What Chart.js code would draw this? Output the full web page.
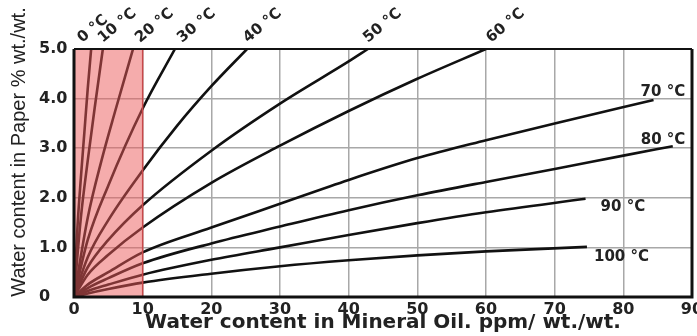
<!DOCTYPE html>
<html>
<head>
<meta charset="utf-8">
<script src="https://cdn.jsdelivr.net/npm/chart.js@4.4.0/dist/chart.umd.min.js"></script>
<style>
  html, body { margin: 0; padding: 0; background: #fff; }
</style>
</head>
<body>
<canvas id="moistureChart" width="697" height="336"></canvas>
<script>
// curve labels (oil temperature)
const tempLabels = ['0 °C', '10 °C', '20 °C', '30 °C', '40 °C', '50 °C', '60 °C',
                    '70 °C', '80 °C', '90 °C', '100 °C'];

// [ppm in oil, % in paper]
const curve0 = [[0, 0], [0.5, 1.4], [1, 2.4], [1.5, 3.3], [2, 4.2], [2.5, 5]];
const curve10 = [[0, 0], [1, 1.6], [2, 2.75], [3, 3.8], [4.2, 5]];
const curve20 = [[0, 0], [2, 1.6], [4, 2.75], [6, 3.75], [8.6, 5]];
const curve30 = [[0, 0], [2, 1.15], [5, 2.25], [10, 3.8], [14.7, 5]];
const curve40 = [[0, 0], [2, 0.8], [5, 1.55], [10, 2.55], [15, 3.45], [20, 4.25], [25.2, 5]];
const curve50 = [[0, 0], [2, 0.6], [5, 1.15], [10, 1.85], [20, 2.95], [30, 3.9], [40, 4.75], [42.8, 5]];
const curve60 = [[0, 0], [2, 0.45], [5, 0.85], [10, 1.4], [20, 2.3], [30, 3.05], [40, 3.75], [50, 4.4], [60, 5]];
const curve70 = [[0, 0], [2, 0.25], [5, 0.5], [10, 0.9], [20, 1.4], [30, 1.88], [40, 2.36], [50, 2.8],
                 [60, 3.16], [70, 3.5], [84.4, 3.97]];
const curve80 = [[0, 0], [2, 0.18], [5, 0.38], [10, 0.68], [20, 1.08], [30, 1.42], [40, 1.75], [50, 2.05],
                 [60, 2.32], [70, 2.58], [80, 2.85], [87.2, 3.04]];
const curve90 = [[0, 0], [2, 0.12], [5, 0.25], [10, 0.45], [20, 0.75], [30, 1.0], [40, 1.25], [50, 1.49],
                 [60, 1.71], [74.5, 1.98]];
const curve100 = [[0, 0], [2, 0.07], [5, 0.16], [10, 0.29], [20, 0.47], [30, 0.62], [40, 0.74], [50, 0.84],
                  [60, 0.92], [74.7, 1.01]];

const xTicks = [0, 10, 20, 30, 40, 50, 60, 70, 80, 90];
const yTickLabels = ['0', '1.0', '2.0', '3.0', '4.0', '5.0'];
const shadedUpTo = 10; // pink band, ppm

const curves = [curve0, curve10, curve20, curve30, curve40, curve50, curve60,
                curve70, curve80, curve90, curve100];

const textColor = '#222';
const tickFont = { family: 'DejaVu Sans', weight: 'bold', size: 16 };

// label placement, pixels from each curve's last point
const topLabelDx = [-9, 0, 7, 7, 1, 0, 5];
const sideLabelOffset = [[-13, -4], [-32, -2], [15, 12], [7, 14]];

const overlay = {
  id: 'overlay',
  afterDatasetsDraw(chart) {
    const { ctx, chartArea: a, scales: { x, y } } = chart;
    const xr = x.getPixelForValue(shadedUpTo);
    ctx.save();
    ctx.fillStyle = 'rgba(235, 90, 90, 0.5)';
    ctx.fillRect(a.left, a.top, xr - a.left, a.bottom - a.top);
    ctx.strokeStyle = '#c9484a';
    ctx.lineWidth = 1.5;
    ctx.beginPath();
    ctx.moveTo(xr, a.top);
    ctx.lineTo(xr, a.bottom);
    ctx.stroke();

    // frame
    ctx.strokeStyle = '#111';
    ctx.lineWidth = 3;
    ctx.beginPath();
    ctx.moveTo(a.left, a.top);
    ctx.lineTo(a.left, a.bottom);
    ctx.lineTo(a.right, a.bottom);
    ctx.lineTo(a.right, a.top);
    ctx.stroke();
    ctx.lineWidth = 2;
    ctx.beginPath();
    ctx.moveTo(a.left, a.top);
    ctx.lineTo(a.right, a.top);
    ctx.stroke();

    // temperature labels
    ctx.fillStyle = textColor;
    ctx.font = 'bold 15px "DejaVu Sans"';
    ctx.textAlign = 'left';
    ctx.textBaseline = 'alphabetic';
    curves.forEach((pts, i) => {
      const last = pts[pts.length - 1];
      const px = x.getPixelForValue(last[0]);
      const py = y.getPixelForValue(last[1]);
      if (i < topLabelDx.length) {
        ctx.save();
        ctx.translate(px + topLabelDx[i], a.top - 6);
        ctx.rotate(-40 * Math.PI / 180);
        ctx.fillText(tempLabels[i], 0, 0);
        ctx.restore();
      } else {
        const off = sideLabelOffset[i - topLabelDx.length];
        ctx.fillText(tempLabels[i], px + off[0], py + off[1]);
      }
    });
    ctx.restore();
  },
  afterDraw(chart) {
    const { ctx } = chart;
    ctx.save();
    ctx.translate(19, 152);
    ctx.rotate(-Math.PI / 2);
    ctx.fillStyle = textColor;
    ctx.font = '20px "Liberation Sans"';
    ctx.textAlign = 'center';
    ctx.textBaseline = 'middle';
    ctx.fillText('Water content in Paper % wt./wt.', 0, 0);
    ctx.restore();
  }
};

new Chart(document.getElementById('moistureChart'), {
  type: 'line',
  data: {
    datasets: curves.map((pts, i) => ({
      label: tempLabels[i],
      data: pts.map(p => ({ x: p[0], y: p[1] })),
      borderColor: '#111',
      borderWidth: 2.6,
      pointRadius: 0,
      fill: false,
      cubicInterpolationMode: 'monotone'
    }))
  },
  options: {
    responsive: false,
    animation: false,
    devicePixelRatio: 1,
    layout: { padding: { left: 39, top: 49, right: 5, bottom: 0 } },
    plugins: { legend: { display: false }, tooltip: { enabled: false } },
    scales: {
      x: {
        type: 'linear',
        min: xTicks[0],
        max: xTicks[xTicks.length - 1],
        afterBuildTicks: s => { s.ticks = xTicks.map(v => ({ value: v })); },
        ticks: { font: tickFont, color: textColor, padding: 3, maxRotation: 0 },
        grid: { color: '#a8a8a8', lineWidth: 1.5, drawTicks: false },
        border: { display: false },
        title: {
          display: true,
          text: 'Water content in Mineral Oil. ppm/ wt./wt.',
          font: { family: 'DejaVu Sans', weight: 'bold', size: 20 },
          color: textColor,
          padding: { top: 0, bottom: 1 }
        },
        afterFit: s => { s.paddingLeft = 0; s.paddingRight = 0; s.height = 39; }
      },
      y: {
        min: 0,
        max: 5,
        ticks: {
          stepSize: 1,
          crossAlign: 'far',
          font: tickFont,
          color: textColor,
          callback: (v) => yTickLabels[v]
        },
        grid: { color: '#a8a8a8', lineWidth: 1.5, drawTicks: false },
        border: { display: false },
        afterFit: s => { s.width = 35; }
      }
    }
  },
  plugins: [overlay]
});
</script>
</body>
</html>
